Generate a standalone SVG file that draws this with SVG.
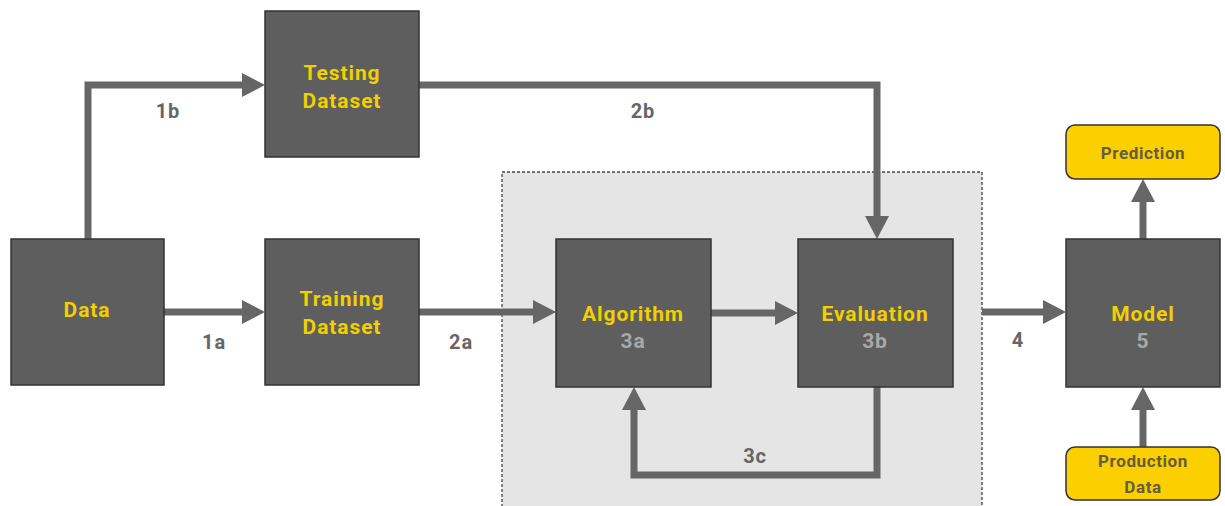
<svg xmlns="http://www.w3.org/2000/svg" width="1225" height="506" viewBox="0 0 1225 506">
<style>
.box{fill:#5e5e5e;stroke:#333;stroke-width:1.5}
.ybox{fill:#fbcf00;stroke:#333;stroke-width:1.5}
.t{font-family:Roboto,"Liberation Sans",sans-serif;font-weight:bold;font-size:21px;letter-spacing:0.9px;fill:#f2d000;text-anchor:middle}
.n{font-family:Roboto,"Liberation Sans",sans-serif;font-weight:bold;font-size:21px;letter-spacing:0.9px;fill:#a8a8a8;text-anchor:middle}
.yt{font-family:Roboto,"Liberation Sans",sans-serif;font-weight:bold;font-size:17px;letter-spacing:0.6px;fill:#665d40;text-anchor:middle}
.lbl{font-family:Roboto,"Liberation Sans",sans-serif;font-weight:bold;font-size:20px;letter-spacing:0.8px;fill:#666;text-anchor:middle}
.c{fill:none;stroke:#666;stroke-width:7;marker-end:url(#ah)}
</style>
<defs>
<marker id="ah" markerUnits="userSpaceOnUse" markerWidth="24" markerHeight="24" viewBox="0 0 23 24" refX="3" refY="12" orient="auto">
<path d="M0,0 L23,12 L0,24 Z" fill="#666"/>
</marker>
</defs>
<rect width="1225" height="506" fill="#fff"/>
<g id="container">
<rect x="502" y="172" width="480" height="340" fill="#e5e5e5" stroke="#444" stroke-width="1.3" stroke-dasharray="3,2"/>
</g>
<g id="connectors">
<path class="c" d="M88,239 V85 H245"/>
<path class="c" d="M164,312 H245"/>
<path class="c" d="M419,312 H536"/>
<path class="c" d="M711,313 H778"/>
<path class="c" d="M419,85 H877 V219"/>
<path class="c" d="M877,387 V475 H634 V407"/>
<path class="c" d="M982,312 H1046"/>
<path class="c" d="M1143,239 V199"/>
<path class="c" d="M1143,447 V407"/>
</g>
<g id="labels">
<text class="lbl" x="168" y="118">1b</text>
<text class="lbl" x="214" y="349">1a</text>
<text class="lbl" x="461" y="349">2a</text>
<text class="lbl" x="643" y="118">2b</text>
<text class="lbl" x="755" y="463">3c</text>
<text class="lbl" x="1018" y="347">4</text>
</g>
<g id="testing">
<rect class="box" x="265" y="11" width="154" height="146"/>
<text class="t" x="342" y="80">Testing</text>
<text class="t" x="342" y="108">Dataset</text>
</g>
<g id="data">
<rect class="box" x="11" y="239" width="153" height="146"/>
<text class="t" x="87" y="317">Data</text>
</g>
<g id="training">
<rect class="box" x="265" y="239" width="154" height="146"/>
<text class="t" x="342" y="306">Training</text>
<text class="t" x="342" y="334">Dataset</text>
</g>
<g id="algorithm">
<rect class="box" x="556" y="239" width="155" height="148"/>
<text class="t" x="633" y="321">Algorithm</text>
<text class="n" x="633" y="348">3a</text>
</g>
<g id="evaluation">
<rect class="box" x="798" y="239" width="155" height="148"/>
<text class="t" x="875" y="321">Evaluation</text>
<text class="n" x="875" y="348">3b</text>
</g>
<g id="model">
<rect class="box" x="1066" y="239" width="154" height="148"/>
<text class="t" x="1143" y="321">Model</text>
<text class="n" x="1143" y="348">5</text>
</g>
<g id="prediction">
<rect class="ybox" x="1066" y="125" width="154" height="54" rx="9"/>
<text class="yt" x="1143" y="159">Prediction</text>
</g>
<g id="production">
<rect class="ybox" x="1066" y="447" width="154" height="53" rx="9"/>
<text class="yt" x="1143" y="467">Production</text>
<text class="yt" x="1143" y="493">Data</text>
</g>
</svg>
